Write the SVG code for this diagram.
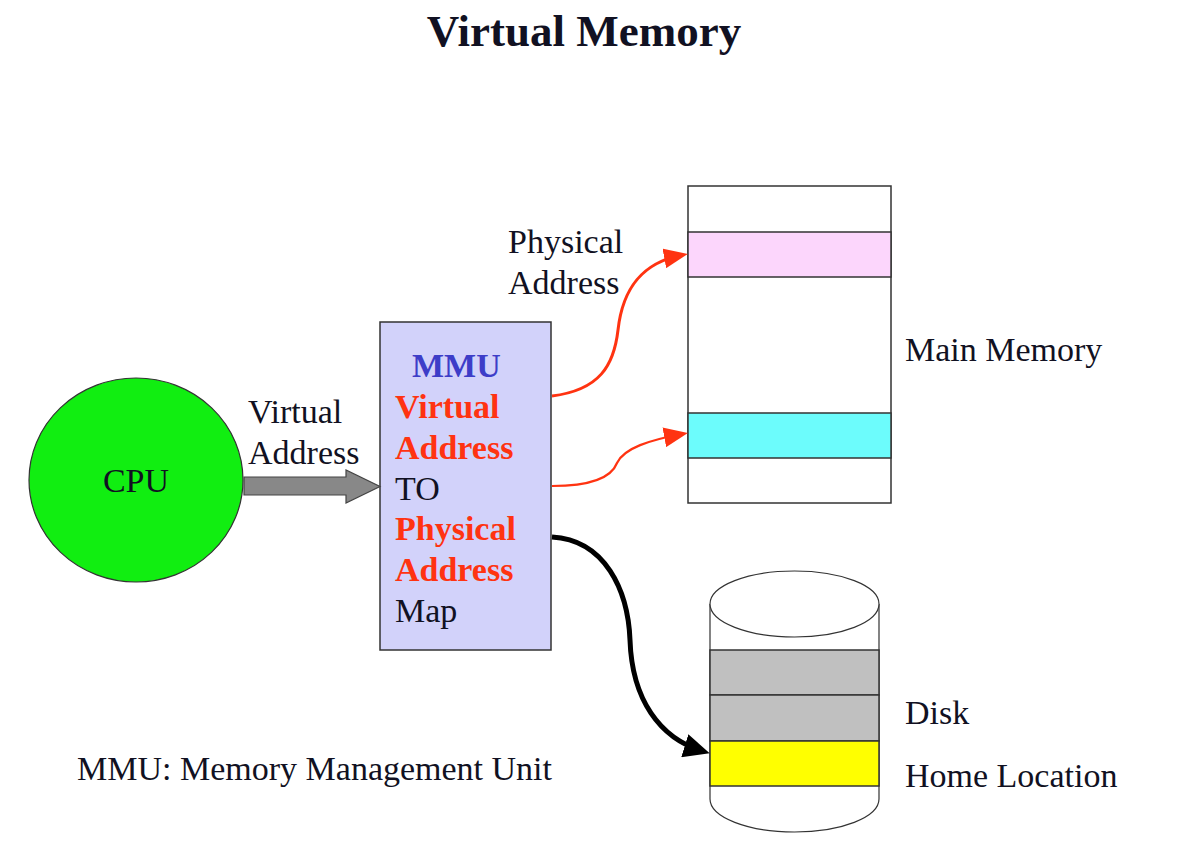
<svg xmlns="http://www.w3.org/2000/svg" width="1196" height="841" viewBox="0 0 1196 841">
<style>
  text { font-family: "Liberation Serif", "Times New Roman", serif; font-size: 34px; fill: #111122; }
  .title { font-size: 45px; font-weight: bold; }
  .bold { font-weight: bold; }
  .red { fill: #ff3311; }
  .blue { fill: #3d3dc8; }
  .box { stroke: #333333; stroke-width: 1.5; }
  .red-line { fill: none; stroke: #ff3311; }
</style>
<defs>
  <marker id="redHead" markerUnits="userSpaceOnUse" viewBox="0 0 24 20" refX="18" refY="10" markerWidth="24" markerHeight="20" orient="auto">
    <path d="M0,0 L24,10 L0,20 z" fill="#ff3311"/>
  </marker>
  <marker id="blackHead" markerUnits="userSpaceOnUse" viewBox="0 0 26 24" refX="18" refY="12" markerWidth="26" markerHeight="24" orient="auto">
    <path d="M0,0 L26,12 L0,24 z" fill="#000000"/>
  </marker>
</defs>
<rect width="1196" height="841" fill="#ffffff"/>

<text class="title" x="584" y="46" text-anchor="middle">Virtual Memory</text>

<g id="cpu">
  <ellipse cx="136" cy="480" rx="107" ry="102" fill="#11ee11" stroke="#333333" stroke-width="1.2"/>
  <text x="136" y="492" text-anchor="middle">CPU</text>
</g>

<g id="mmu">
  <rect class="box" x="380" y="322" width="171" height="328" fill="#d2d2fa"/>
  <text class="bold blue" x="412" y="377">MMU</text>
  <text class="bold red" x="395" y="418">Virtual</text>
  <text class="bold red" x="395" y="459">Address</text>
  <text x="395" y="500">TO</text>
  <text class="bold red" x="395" y="540">Physical</text>
  <text class="bold red" x="395" y="581">Address</text>
  <text x="395" y="622">Map</text>
</g>

<g id="main-memory">
  <rect class="box" x="688" y="186" width="203" height="317" fill="#ffffff"/>
  <rect class="box" x="688" y="232" width="203" height="45" fill="#fcd6fc"/>
  <rect class="box" x="688" y="413" width="203" height="45" fill="#6cfcfc"/>
  <text x="905" y="361">Main Memory</text>
</g>

<g id="disk">
  <path d="M710,604 L710,799 A84.5,33 0 0 0 879,799 L879,604" fill="#ffffff" stroke="#333333" stroke-width="1.2"/>
  <rect class="box" x="710" y="650" width="169" height="45" fill="#c0c0c0" stroke-width="1.2"/>
  <rect class="box" x="710" y="695" width="169" height="46" fill="#c0c0c0" stroke-width="1.2"/>
  <rect class="box" x="710" y="741" width="169" height="45" fill="#ffff00" stroke-width="1.2"/>
  <ellipse cx="794.5" cy="604" rx="84.5" ry="33" fill="#ffffff" stroke="#333333" stroke-width="1.2"/>
  <text x="905" y="724">Disk</text>
  <text x="905" y="787">Home Location</text>
</g>

<g id="labels">
  <text x="508" y="253">Physical</text>
  <text x="508" y="294">Address</text>
  <text x="248" y="423">Virtual</text>
  <text x="248" y="464">Address</text>
  <text x="77" y="780">MMU: Memory Management Unit</text>
</g>

<g id="connectors">
  <polygon points="244,477 346,477 346,470 380,486.5 346,503 346,495 244,495" fill="#888888" stroke="#444444" stroke-width="1.2"/>
  <path class="red-line" stroke-width="3" d="M552,396 C600,390 614,365 618,330 C623,285 645,262 682,255" marker-end="url(#redHead)"/>
  <path class="red-line" stroke-width="2.2" d="M552,486 C595,486 612,476 617,463 C624,448 650,440 682,434" marker-end="url(#redHead)"/>
  <path d="M552,537 C605,540 628,590 630,640 C632,700 660,738 702,751" fill="none" stroke="#000000" stroke-width="5" marker-end="url(#blackHead)"/>
</g>
</svg>
